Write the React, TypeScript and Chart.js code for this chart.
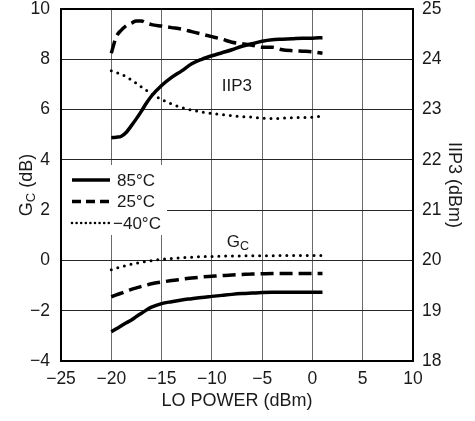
import React, { useEffect, useRef } from 'react';
import { Chart, registerables } from 'chart.js';

Chart.register(...registerables);

// LO power (dBm) sample points
const loPower = [-20, -19.5, -19, -18.5, -18, -17.5, -17, -16.5, -16, -15, -14, -13, -12, -11, -10, -9, -8, -7, -6, -5, -4, -3, -2, -1, 0, 1];

// IIP3 (dBm), right axis
const iip3_85 = [22.44, 22.45, 22.47, 22.55, 22.68, 22.82, 22.97, 23.13, 23.27, 23.48, 23.64, 23.77, 23.91, 24.0, 24.07, 24.13, 24.19, 24.26, 24.31, 24.36, 24.39, 24.4, 24.41, 24.42, 24.42, 24.43];
const iip3_25 = [24.12, 24.45, 24.58, 24.67, 24.72, 24.76, 24.76, 24.72, 24.69, 24.66, 24.63, 24.6, 24.55, 24.5, 24.45, 24.4, 24.34, 24.31, 24.28, 24.24, 24.24, 24.19, 24.17, 24.16, 24.15, 24.12];
const iip3_m40 = [23.77, 23.74, 23.7, 23.65, 23.59, 23.52, 23.45, 23.38, 23.31, 23.2, 23.11, 23.04, 22.99, 22.95, 22.92, 22.9, 22.88, 22.86, 22.85, 22.83, 22.82, 22.83, 22.84, 22.84, 22.85, 22.87];

// Conversion gain Gc (dB), left axis
const gc_85 = [-2.84, -2.72, -2.6, -2.48, -2.37, -2.23, -2.1, -1.97, -1.86, -1.72, -1.64, -1.57, -1.52, -1.47, -1.43, -1.39, -1.35, -1.32, -1.3, -1.28, -1.27, -1.27, -1.27, -1.27, -1.27, -1.27];
const gc_25 = [-1.45, -1.37, -1.3, -1.22, -1.15, -1.09, -1.03, -0.98, -0.93, -0.86, -0.8, -0.75, -0.7, -0.66, -0.63, -0.6, -0.58, -0.56, -0.54, -0.53, -0.52, -0.52, -0.52, -0.52, -0.52, -0.52];
const gc_m40 = [-0.37, -0.31, -0.25, -0.2, -0.15, -0.11, -0.07, -0.04, -0.01, 0.04, 0.08, 0.11, 0.13, 0.15, 0.16, 0.17, 0.18, 0.18, 0.19, 0.19, 0.19, 0.2, 0.2, 0.2, 0.2, 0.2];

const legendLabels = ['85°C', '25°C', '−40°C'];
const xTitle = 'LO POWER (dBm)';
const rightTitle = 'IIP3 (dBm)';

const FONT = "'Liberation Sans', Arial, sans-serif";
const INK = '#1a1a1a';

const fmt = (v: number) => (v < 0 ? '\u2212' + Math.abs(v) : String(v));
const pts = (ys: number[]) => loPower.map((x, i) => ({ x, y: ys[i] }));

const styles = [
  { borderWidth: 3.5, borderDash: [] as number[], borderCapStyle: 'butt' },
  { borderWidth: 3.5, borderDash: [13, 6], borderCapStyle: 'butt' },
  { borderWidth: 3, borderDash: [0, 6.8], borderCapStyle: 'round' },
];

const overlayPlugin = {
  id: 'overlay',
  afterDraw(chart: any) {
    const { ctx, chartArea, scales } = chart;
    const xs = scales.x;
    const yl = scales.y;
    ctx.save();
    // left axis title with subscript
    ctx.fillStyle = INK;
    ctx.translate(25, (chartArea.top + chartArea.bottom) / 2);
    ctx.rotate(-Math.PI / 2);
    const big = `18px ${FONT}`;
    const small = `13px ${FONT}`;
    ctx.font = big;
    const wG = ctx.measureText('G').width;
    const wRest = ctx.measureText(' (dB)').width;
    ctx.font = small;
    const wC = ctx.measureText('C').width;
    let sx = -(wG + wC + wRest) / 2;
    ctx.textBaseline = 'alphabetic';
    ctx.textAlign = 'left';
    ctx.font = big;
    ctx.fillText('G', sx, 7);
    sx += wG;
    ctx.font = small;
    ctx.fillText('C', sx, 10);
    sx += wC;
    ctx.font = big;
    ctx.fillText(' (dB)', sx, 7);
    ctx.restore();

    // curve labels
    ctx.save();
    ctx.fillStyle = INK;
    ctx.textAlign = 'left';
    ctx.textBaseline = 'alphabetic';
    ctx.font = `17px ${FONT}`;
    ctx.fillText('IIP3', xs.getPixelForValue(-9.02), yl.getPixelForValue(6.74));
    const gx = xs.getPixelForValue(-8.52);
    const gy = yl.getPixelForValue(0.53);
    ctx.fillText('G', gx, gy);
    const gw = ctx.measureText('G').width;
    ctx.font = `12.5px ${FONT}`;
    ctx.fillText('C', gx + gw, gy + 3);
    ctx.restore();

    // legend box
    ctx.save();
    const lx = chartArea.left + 1;
    const ly = chartArea.top + 156;
    ctx.fillStyle = '#ffffff';
    ctx.fillRect(lx, ly, 105, 70);
    const rows = [171, 192.5, 214];
    rows.forEach((ry, i) => {
      const y = chartArea.top + ry;
      ctx.strokeStyle = '#000';
      ctx.lineWidth = i === 2 ? 2.6 : 3.5;
      ctx.lineCap = i === 2 ? 'round' : 'butt';
      ctx.setLineDash(i === 0 ? [] : i === 1 ? [9, 5] : [0, 4.6]);
      ctx.beginPath();
      ctx.moveTo(chartArea.left + 11, y);
      ctx.lineTo(chartArea.left + 49, y);
      ctx.stroke();
      ctx.setLineDash([]);
      ctx.fillStyle = INK;
      ctx.font = `17px ${FONT}`;
      ctx.textBaseline = 'middle';
      ctx.textAlign = 'left';
      ctx.fillText(legendLabels[i], chartArea.left + (i === 2 ? 52 : 56), y + 1);
    });
    ctx.restore();
  },
};

export default function App() {
  const ref = useRef<HTMLCanvasElement | null>(null);
  useEffect(() => {
    if (!ref.current) return;
    const mk = (label: string, ys: number[], axis: string, si: number) => ({
      label,
      data: pts(ys),
      yAxisID: axis,
      borderColor: '#000',
      backgroundColor: '#000',
      borderWidth: styles[si].borderWidth,
      borderDash: styles[si].borderDash,
      borderCapStyle: styles[si].borderCapStyle,
      pointRadius: 0,
      cubicInterpolationMode: 'monotone',
      fill: false,
    });
    const chart = new Chart(ref.current, {
      type: 'line',
      data: {
        datasets: [
          mk('IIP3 85°C', iip3_85, 'y1', 0),
          mk('IIP3 25°C', iip3_25, 'y1', 1),
          mk('IIP3 −40°C', iip3_m40, 'y1', 2),
          mk('Gc 85°C', gc_85, 'y', 0),
          mk('Gc 25°C', gc_25, 'y', 1),
          mk('Gc −40°C', gc_m40, 'y', 2),
        ] as any,
      },
      options: {
        responsive: false,
        animation: false,
        layout: { padding: { top: 9, left: 0, right: 0, bottom: 0 } },
        plugins: { legend: { display: false }, tooltip: { enabled: false } },
        scales: {
          x: {
            type: 'linear',
            min: -25,
            max: 10,
            afterFit(s: any) { s.height = 60; s.paddingLeft = 0; s.paddingRight = 0; },
            ticks: { stepSize: 5, color: INK, padding: 8, font: { family: FONT, size: 17.5 }, callback: (v: any) => fmt(Number(v)), maxRotation: 0 },
            grid: { color: '#6a6a6a', lineWidth: 1, drawTicks: false },
            border: { display: true, color: '#000', width: 2 },
            title: { display: true, text: xTitle, color: INK, font: { family: FONT, size: 18 }, padding: { top: 0, bottom: 9 } },
          },
          y: {
            type: 'linear',
            position: 'left',
            min: -4,
            max: 10,
            afterFit(s: any) { s.width = 61; s.paddingTop = 0; s.paddingBottom = 0; },
            ticks: { stepSize: 2, color: INK, padding: 11, font: { family: FONT, size: 17.5 }, callback: (v: any) => fmt(Number(v)) },
            grid: {
              color: (c: any) => (c.tick && c.tick.value === 10 ? '#000' : '#262626'),
              lineWidth: (c: any) => (c.tick && c.tick.value === 10 ? 2 : 1),
              drawTicks: false,
            },
            border: { display: true, color: '#000', width: 2 },
          },
          y1: {
            type: 'linear',
            position: 'right',
            min: 18,
            max: 25,
            afterFit(s: any) { s.width = 62; s.paddingTop = 0; s.paddingBottom = 0; },
            ticks: { stepSize: 1, color: INK, padding: 9, font: { family: FONT, size: 17.5 } },
            grid: { display: false, drawTicks: false },
            border: { display: true, color: '#000', width: 2 },
            title: { display: true, text: rightTitle, color: INK, font: { family: FONT, size: 18 }, padding: { top: 10, bottom: 0 } },
          },
        },
      } as any,
      plugins: [overlayPlugin],
    });
    return () => chart.destroy();
  }, []);
  return (
    <div style={{ position: 'fixed', left: 0, top: 0, width: 475, height: 421, background: '#fff' }}>
      <canvas ref={ref} width={475} height={421} style={{ display: 'block' }} />
    </div>
  );
}
